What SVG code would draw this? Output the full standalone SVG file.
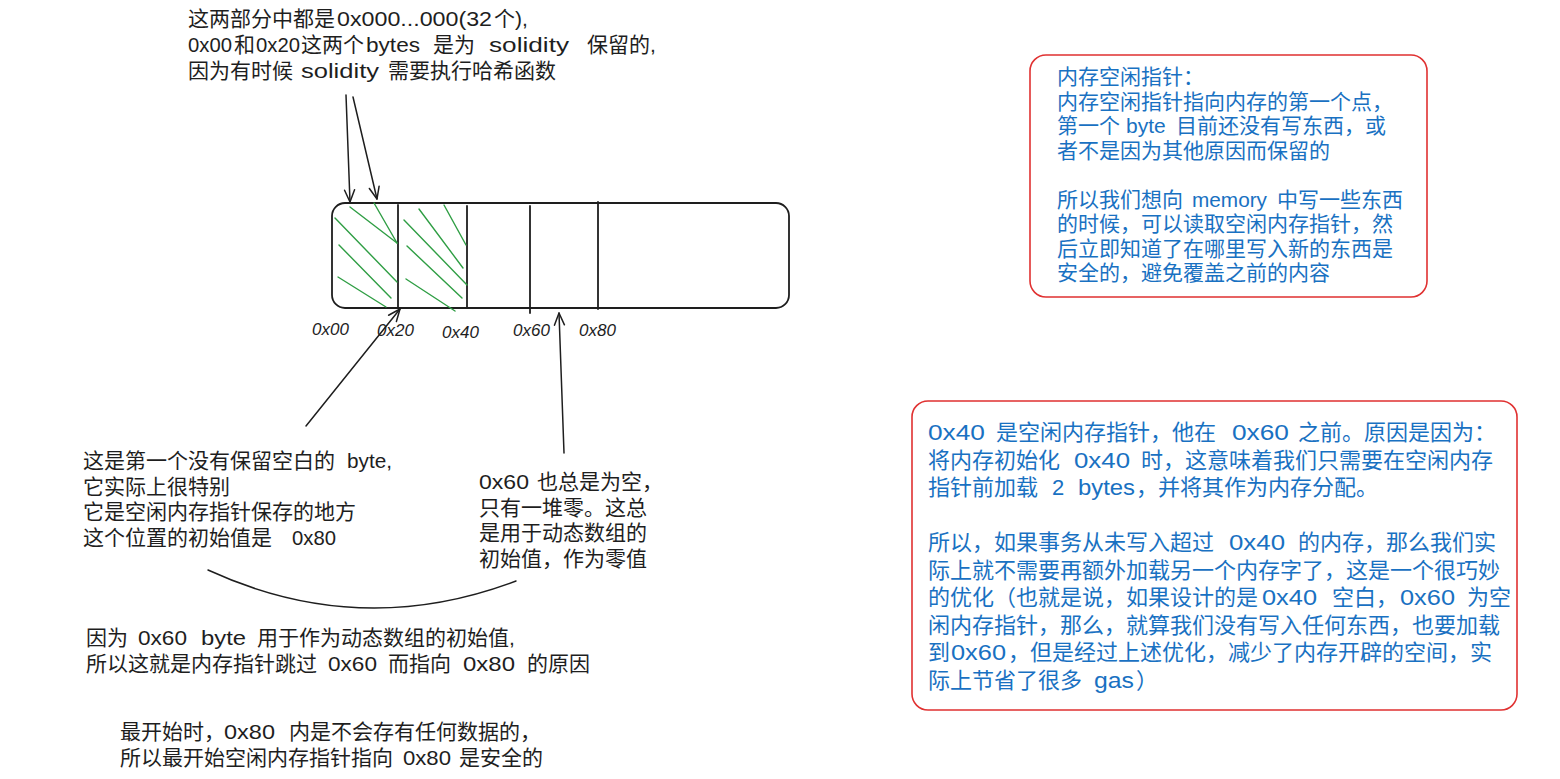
<svg xmlns="http://www.w3.org/2000/svg" width="1560" height="779" viewBox="0 0 1560 779">
<style>
.t{font-family:'Liberation Sans','Noto Sans CJK SC',sans-serif;fill:#1e1e1e;font-size:21px}
.lbl{font-family:'Liberation Sans','Noto Sans CJK SC',sans-serif;fill:#1e1e1e;font-size:17px;font-style:italic}
.b1{font-family:'Liberation Sans','Noto Sans CJK SC',sans-serif;fill:#1971c2;font-size:21px}
.b2{font-family:'Liberation Sans','Noto Sans CJK SC',sans-serif;fill:#1971c2;font-size:22px}
.ln{stroke:#1e1e1e;stroke-width:1.8;fill:none;stroke-linecap:round}
.hatch{stroke:#2f9e44;stroke-width:1.4;fill:none;stroke-linecap:round}
.red{stroke:#e03131;stroke-width:1.6;fill:#ffffff}
.arrow{stroke:#1e1e1e;stroke-width:1.5;fill:none;stroke-linecap:round}
</style>
<defs>
<marker id="arr" viewBox="-14 -7 16 14" refX="0" refY="0" markerWidth="16" markerHeight="14" orient="auto" markerUnits="userSpaceOnUse">
<path d="M-12,-5 L0,0 L-12,5" fill="none" stroke="#1e1e1e" stroke-width="1.5" stroke-linecap="round" stroke-linejoin="round"/>
</marker>
</defs>
<rect width="1560" height="779" fill="#ffffff"/>

<g id="note-top">
<text class="t" y="26"><tspan x="188">这两部分中都是</tspan><tspan x="337" textLength="155" lengthAdjust="spacingAndGlyphs">0x000...000(32</tspan><tspan x="494">个),</tspan></text>
<text class="t" y="52"><tspan x="188" textLength="44" lengthAdjust="spacingAndGlyphs">0x00</tspan><tspan x="234">和</tspan><tspan x="256" textLength="44" lengthAdjust="spacingAndGlyphs">0x20</tspan><tspan x="301">这两个</tspan><tspan x="366" textLength="54" lengthAdjust="spacingAndGlyphs">bytes</tspan><tspan x="433">是为</tspan><tspan x="489" textLength="80" lengthAdjust="spacingAndGlyphs">solidity</tspan><tspan x="587">保留的,</tspan></text>
<text class="t" y="78"><tspan x="188">因为有时候</tspan><tspan x="301" textLength="78" lengthAdjust="spacingAndGlyphs">solidity</tspan><tspan x="388">需要执行哈希函数</tspan></text>
</g>

<g id="memory">
<rect x="332" y="203" width="457" height="105" rx="13" class="ln"/>
<line x1="398" y1="205" x2="398" y2="308" class="ln"/>
<line x1="467" y1="206" x2="467" y2="308" class="ln"/>
<line x1="530" y1="206" x2="530" y2="313" class="ln"/>
<line x1="598" y1="202" x2="598" y2="309" class="ln"/>
<g id="hatch">
<line x1="350" y1="207" x2="397" y2="243" class="hatch"/>
<line x1="374" y1="203" x2="397" y2="243" class="hatch"/>
<line x1="335" y1="218" x2="397" y2="282" class="hatch"/>
<line x1="339" y1="245" x2="391" y2="298" class="hatch"/>
<line x1="338" y1="277" x2="386" y2="307" class="hatch"/>
<line x1="419" y1="209" x2="463" y2="268" class="hatch"/>
<line x1="444" y1="205" x2="466" y2="245" class="hatch"/>
<line x1="404" y1="220" x2="467" y2="285" class="hatch"/>
<line x1="407" y1="246" x2="462" y2="298" class="hatch"/>
<line x1="406" y1="279" x2="455" y2="311" class="hatch"/>
</g>
</g>

<g id="labels">
<text class="lbl" x="312" y="335">0x00</text>
<text class="lbl" x="377" y="336">0x20</text>
<text class="lbl" x="442" y="338">0x40</text>
<text class="lbl" x="513" y="336">0x60</text>
<text class="lbl" x="579" y="336">0x80</text>
</g>

<g id="connectors">
<line x1="346" y1="95" x2="350" y2="202" class="arrow" marker-end="url(#arr)"/>
<line x1="353" y1="97" x2="377" y2="199" class="arrow" marker-end="url(#arr)"/>
<line x1="306" y1="426" x2="400" y2="309" class="arrow" marker-end="url(#arr)"/>
<line x1="564" y1="453" x2="559" y2="313" class="arrow" marker-end="url(#arr)"/>
<path d="M208,570 Q360,640 516,581" class="arrow" stroke-width="2"/>
</g>

<g id="note-0x40">
<text class="t" y="468"><tspan x="83">这是第一个没有保留空白的</tspan><tspan x="347" textLength="45" lengthAdjust="spacingAndGlyphs">byte,</tspan></text>
<text class="t" x="83" y="494">它实际上很特别</text>
<text class="t" x="83" y="519">它是空闲内存指针保存的地方</text>
<text class="t" y="545"><tspan x="83">这个位置的初始值是</tspan><tspan x="292" textLength="44" lengthAdjust="spacingAndGlyphs">0x80</tspan></text>
</g>

<g id="note-0x60">
<text class="t" y="489"><tspan x="479" textLength="50" lengthAdjust="spacingAndGlyphs">0x60</tspan><tspan x="537">也总是为空，</tspan></text>
<text class="t" x="479" y="515">只有一堆零。这总</text>
<text class="t" x="479" y="540">是用于动态数组的</text>
<text class="t" x="479" y="566">初始值，作为零值</text>
</g>

<g id="note-reason">
<text class="t" y="645"><tspan x="86">因为</tspan><tspan x="138" textLength="49" lengthAdjust="spacingAndGlyphs">0x60</tspan><tspan x="201" textLength="45" lengthAdjust="spacingAndGlyphs">byte</tspan><tspan x="257">用于作为动态数组的初始值,</tspan></text>
<text class="t" y="671"><tspan x="86">所以这就是内存指针跳过</tspan><tspan x="328" textLength="49" lengthAdjust="spacingAndGlyphs">0x60</tspan><tspan x="388">而指向</tspan><tspan x="463" textLength="52" lengthAdjust="spacingAndGlyphs">0x80</tspan><tspan x="527">的原因</tspan></text>
</g>

<g id="note-safe">
<text class="t" y="739"><tspan x="120">最开始时，</tspan><tspan x="224" textLength="51" lengthAdjust="spacingAndGlyphs">0x80</tspan><tspan x="289">内是不会存有任何数据的，</tspan></text>
<text class="t" y="765"><tspan x="120">所以最开始空闲内存指针指向</tspan><tspan x="403" textLength="48" lengthAdjust="spacingAndGlyphs">0x80</tspan><tspan x="459">是安全的</tspan></text>
</g>

<g id="box-free-pointer">
<rect x="1030" y="55" width="397" height="242" rx="16" class="red"/>
<text class="b1" x="1057" y="84">内存空闲指针：</text>
<text class="b1" x="1057" y="108.5">内存空闲指针指向内存的第一个点，</text>
<text class="b1" y="133"><tspan x="1057">第一个</tspan><tspan x="1126">byte</tspan><tspan x="1176">目前还没有写东西，或</tspan></text>
<text class="b1" x="1057" y="157.5">者不是因为其他原因而保留的</text>
<text class="b1" y="206.5"><tspan x="1057">所以我们想向</tspan><tspan x="1192" textLength="75" lengthAdjust="spacingAndGlyphs">memory</tspan><tspan x="1277">中写一些东西</tspan></text>
<text class="b1" x="1057" y="231">的时候，可以读取空闲内存指针，然</text>
<text class="b1" x="1057" y="255.5">后立即知道了在哪里写入新的东西是</text>
<text class="b1" x="1057" y="280">安全的，避免覆盖之前的内容</text>
</g>

<g id="box-optimization">
<rect x="912" y="401" width="605" height="309" rx="16" class="red"/>
<text class="b2" y="440"><tspan x="928" textLength="57" lengthAdjust="spacingAndGlyphs">0x40</tspan><tspan x="996">是空闲内存指针，他在</tspan><tspan x="1232" textLength="57" lengthAdjust="spacingAndGlyphs">0x60</tspan><tspan x="1298">之前。原因是因为：</tspan></text>
<text class="b2" y="467.5"><tspan x="928">将内存初始化</tspan><tspan x="1074" textLength="56" lengthAdjust="spacingAndGlyphs">0x40</tspan><tspan x="1141">时，这意味着我们只需要在空闲内存</tspan></text>
<text class="b2" y="495"><tspan x="928">指针前加载</tspan><tspan x="1052">2</tspan><tspan x="1078" textLength="57" lengthAdjust="spacingAndGlyphs">bytes</tspan><tspan x="1136">，并将其作为内存分配。</tspan></text>
<text class="b2" y="550"><tspan x="928">所以，如果事务从未写入超过</tspan><tspan x="1229" textLength="56" lengthAdjust="spacingAndGlyphs">0x40</tspan><tspan x="1298">的内存，那么我们实</tspan></text>
<text class="b2" x="928" y="577.5">际上就不需要再额外加载另一个内存字了，这是一个很巧妙</text>
<text class="b2" y="605"><tspan x="928">的优化（也就是说，如果设计的是</tspan><tspan x="1262" textLength="55" lengthAdjust="spacingAndGlyphs">0x40</tspan><tspan x="1332">空白，</tspan><tspan x="1400" textLength="55" lengthAdjust="spacingAndGlyphs">0x60</tspan><tspan x="1467">为空</tspan></text>
<text class="b2" x="928" y="632.5">闲内存指针，那么，就算我们没有写入任何东西，也要加载</text>
<text class="b2" y="660"><tspan x="928">到</tspan><tspan x="951" textLength="55" lengthAdjust="spacingAndGlyphs">0x60</tspan><tspan x="1008">，但是经过上述优化，减少了内存开辟的空间，实</tspan></text>
<text class="b2" y="687.5"><tspan x="928">际上节省了很多</tspan><tspan x="1094" textLength="40" lengthAdjust="spacingAndGlyphs">gas</tspan><tspan x="1136">）</tspan></text>
</g>
</svg>
